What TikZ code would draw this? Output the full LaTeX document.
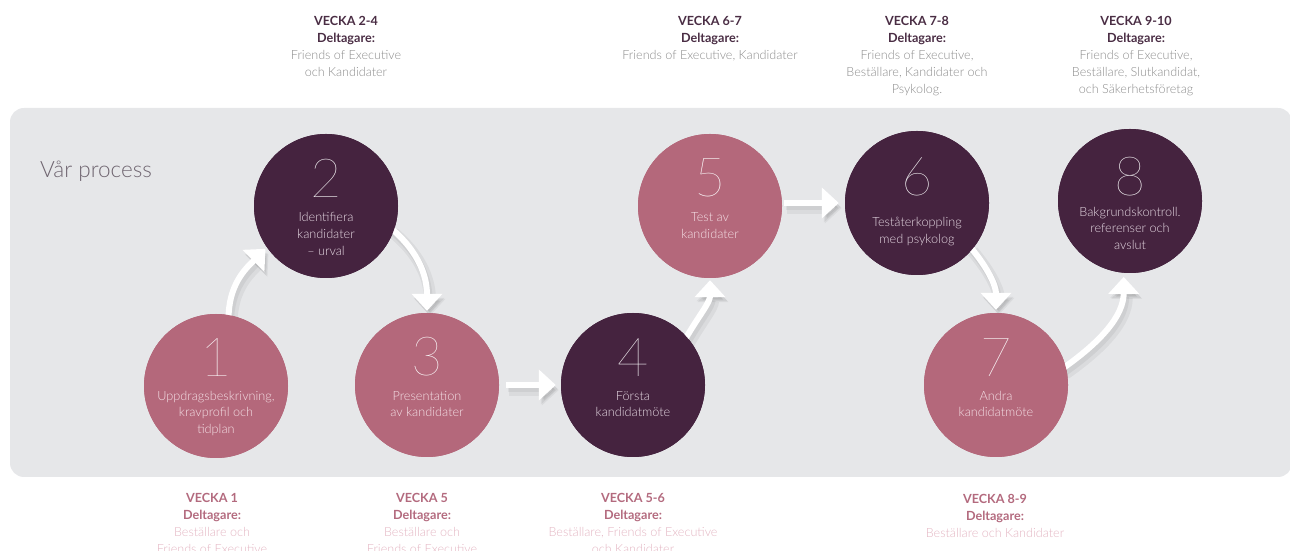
\documentclass[tikz,border=0pt]{standalone}
\usepackage{fontspec}
\setmainfont{Lato}
\newfontfamily\regf{Lato}
\newfontfamily\lightf{Lato Light}
\newfontfamily\thinf{Lato Thin}
\usetikzlibrary{arrows.meta,calc}
\definecolor{bg}{HTML}{E6E7E9}
\definecolor{pinkc}{HTML}{B4687B}
\definecolor{darkc}{HTML}{45233F}
\definecolor{tophead}{HTML}{4A2D44}
\definecolor{topbody}{HTML}{8C8C8C}
\definecolor{bothead}{HTML}{B36A7E}
\definecolor{botbody}{HTML}{E3B5C2}
\definecolor{ptext}{HTML}{F4DFE5}
\definecolor{dtext}{HTML}{E6D9E3}
\definecolor{titlec}{HTML}{6F6570}
\newcommand\tophd[1]{\textcolor{tophead}{\regf\bfseries #1}}
\newcommand\topbd[1]{\textcolor{topbody}{#1}}
\newcommand\bothd[1]{\textcolor{bothead}{\regf\bfseries #1}}
\newcommand\botbd[1]{\textcolor{botbody}{#1}}
\begin{document}
\begin{tikzpicture}[x=1pt,y=1pt,
  circ/.style={circle, minimum size=144pt, inner sep=0pt, draw=none},
  pinkcirc/.style={circ, fill=pinkc},
  darkcirc/.style={circ, fill=darkc},
  num/.style={font=\thinf\fontsize{54}{54}\selectfont, text=white, anchor=base, inner sep=0pt},
  ctext/.style={font=\lightf\fontsize{12.7}{16.7}\selectfont, align=center, anchor=north, inner sep=0pt},
  ptxt/.style={ctext, text=ptext},
  dtxt/.style={ctext, text=dtext},
  lbl/.style={font=\lightf\fontsize{12.6}{17}\selectfont, align=center, anchor=north, inner sep=0pt},
  flow/.style={draw=white, line width=6pt, -{Triangle[length=17pt,width=30pt]},
    preaction={draw=black, draw opacity=0.05, fill opacity=0.05, line width=12pt, transform canvas={shift={(3pt,-5pt)}}},
    preaction={draw=black, draw opacity=0.05, fill opacity=0.05, line width=7pt, transform canvas={shift={(2pt,-4pt)}}}}
]
\useasboundingbox (0,0) rectangle (1290,551);
\fill[bg, rounded corners=14pt] (10,74) rectangle (1292,443);

\node[anchor=base west, inner sep=0pt, font=\lightf\fontsize{22.5}{24}\selectfont, text=titlec] (title) at (40,373.7) {Vår process};

% circles (placed first as coordinates for arrows)
\path (216,165) node[pinkcirc] (c1) {}
      (326,345) node[darkcirc] (c2) {}
      (427,166) node[pinkcirc] (c3) {}
      (633,166) node[darkcirc] (c4) {}
      (710,345) node[pinkcirc] (c5) {}
      (917,348) node[darkcirc] (c6) {}
      (996,166) node[pinkcirc] (c7) {}
      (1130,350) node[darkcirc] (c8) {};

% arrows
\draw[flow, shorten <=-4pt, shorten >=2pt] (c1.80) to[out=90,in=225] (c2.215);
\draw[flow, shorten <=-4pt, shorten >=2pt] (c2.340) to[out=-40,in=90] (c3.north);
\draw[flow, shorten <=7pt, shorten >=5pt] (c3.east) -- (c4.west);
\draw[flow, shorten <=-4pt, shorten >=2pt] (c4.42) to[out=60,in=-90] (c5.south);
\draw[flow, shorten <=2pt, shorten >=6pt] (c5.east |- c6.west) -- (c6.west);
\draw[flow, shorten <=-4pt, shorten >=3pt] (c6.320) to[out=-50,in=90] (c7.north);
\draw[flow, shorten <=-4pt, shorten >=4pt] (c7.15) to[out=35,in=-90] (c8.265);

% circles redrawn on top
\node[pinkcirc] at (c1) {};
\node[darkcirc] at (c2) {};
\node[pinkcirc] at (c3) {};
\node[darkcirc] at (c4) {};
\node[pinkcirc] at (c5) {};
\node[darkcirc] at (c6) {};
\node[pinkcirc] at (c7) {};
\node[darkcirc] at (c8) {};

% numbers
\node[num] (n1) at ([yshift=9pt]c1.center) {1};
\node[num] (n2) at ([yshift=8pt]c2.center) {2};
\node[num] (n3) at ([yshift=9pt]c3.center) {3};
\node[num] (n4) at ([yshift=8pt]c4.center) {4};
\node[num] (n5) at ([yshift=9pt]c5.center) {5};
\node[num] (n6) at ([yshift=7pt]c6.center) {6};
\node[num] (n7) at ([yshift=8pt]c7.center) {7};
\node[num] (n8) at ([yshift=5pt]c8.center) {8};

% circle texts
\node[ptxt] (x1) at ([yshift=-2.3pt]c1.center) {\strut Uppdragsbeskrivning,\\kravprofil och\\tidplan};
\node[dtxt] (x2) at ([yshift=-4pt]c2.center) {\strut Identifiera\\kandidater\\– urval};
\node[ptxt] (x3) at ([yshift=-3.3pt]c3.center) {\strut Presentation\\av kandidater};
\node[dtxt] (x4) at ([yshift=-3.3pt]c4.center) {\strut Första\\kandidatmöte};
\node[ptxt] (x5) at ([yshift=-4pt]c5.center) {\strut Test av\\kandidater};
\node[dtxt] (x6) at ([yshift=-12pt]c6.center) {\strut Teståterkoppling\\med psykolog};
\node[ptxt] (x7) at ([yshift=-3.3pt]c7.center) {\strut Andra\\kandidatmöte};
\node[dtxt] (x8) at ([yshift=-3.3pt]c8.center) {\strut Bakgrundskontroll.\\referenser och\\avslut};

% top labels
\node[lbl] (t24) at (346,537.9) {\strut\tophd{VECKA 2-4}\\\tophd{Deltagare:}\\\topbd{Friends of Executive}\\\topbd{och Kandidater}};
\node[lbl] (t67) at (710,537.9) {\strut\tophd{VECKA 6-7}\\\tophd{Deltagare:}\\\topbd{Friends of Executive, Kandidater}};
\node[lbl] (t78) at (917,537.9) {\strut\tophd{VECKA 7-8}\\\tophd{Deltagare:}\\\topbd{Friends of Executive,}\\\topbd{Beställare, Kandidater och}\\\topbd{Psykolog.}};
\node[lbl] (t910) at (1136,537.9) {\strut\tophd{VECKA 9-10}\\\tophd{Deltagare:}\\\topbd{Friends of Executive,}\\\topbd{Beställare, Slutkandidat,}\\\topbd{och Säkerhetsföretag}};

% bottom labels
\node[lbl] (b1) at (212,60.9) {\strut\bothd{VECKA 1}\\\bothd{Deltagare:}\\\botbd{Beställare och}\\\botbd{Friends of Executive}};
\node[lbl] (b5) at (422,60.9) {\strut\bothd{VECKA 5}\\\bothd{Deltagare:}\\\botbd{Beställare och}\\\botbd{Friends of Executive}};
\node[lbl] (b56) at (633,60.9) {\strut\bothd{VECKA 5-6}\\\bothd{Deltagare:}\\\botbd{Beställare, Friends of Executive}\\\botbd{och Kandidater}};
\node[lbl] (b89) at (995,59.9) {\strut\bothd{VECKA 8-9}\\\bothd{Deltagare:}\\\botbd{Beställare och Kandidater}};
\end{tikzpicture}
\end{document}
